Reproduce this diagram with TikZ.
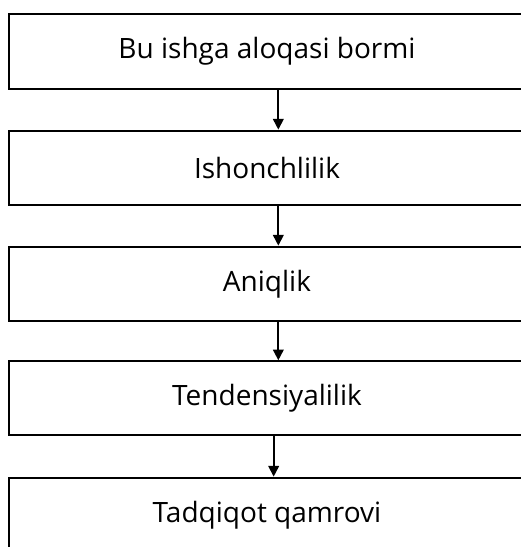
\documentclass[tikz,border=0pt]{standalone}
\usepackage{fontspec}
\setmainfont{Open Sans}
\usetikzlibrary{arrows.meta}

\tikzset{
  stage/.style={draw,line width=1.6pt,minimum width=387pt,minimum height=56pt,
    inner sep=0pt,font=\fontsize{21}{25}\selectfont},
  flow/.style={-{Triangle[length=8pt,width=8pt]},line width=1.3pt}
}

\begin{document}
\begin{tikzpicture}[x=0.75pt,y=-0.75pt]
    \useasboundingbox (0,0) rectangle (521,547);

    \node[stage] (relevance) at (267,51.5) {Bu ishga aloqasi bormi};
    \node[stage] (trust) at (267,168) {Ishonchlilik};
    \node[stage] (accuracy) at (267,284) {Aniqlik};
    \node[stage,minimum height=55pt] (bias) at (267,398) {Tendensiyalilik};
    \node[stage] (scope) at (267,515) {Tadqiqot qamrovi};

    \draw[flow] ([xshift=8.5pt]relevance.south) -- ([xshift=8.5pt]trust.north);
    \draw[flow] ([xshift=8.5pt]trust.south) -- ([xshift=8.5pt]accuracy.north);
    \draw[flow] ([xshift=8.5pt]accuracy.south) -- ([xshift=8.5pt]bias.north);
    \draw[flow] ([xshift=5pt]bias.south) -- ([xshift=5pt]scope.north);
\end{tikzpicture}
\end{document}
